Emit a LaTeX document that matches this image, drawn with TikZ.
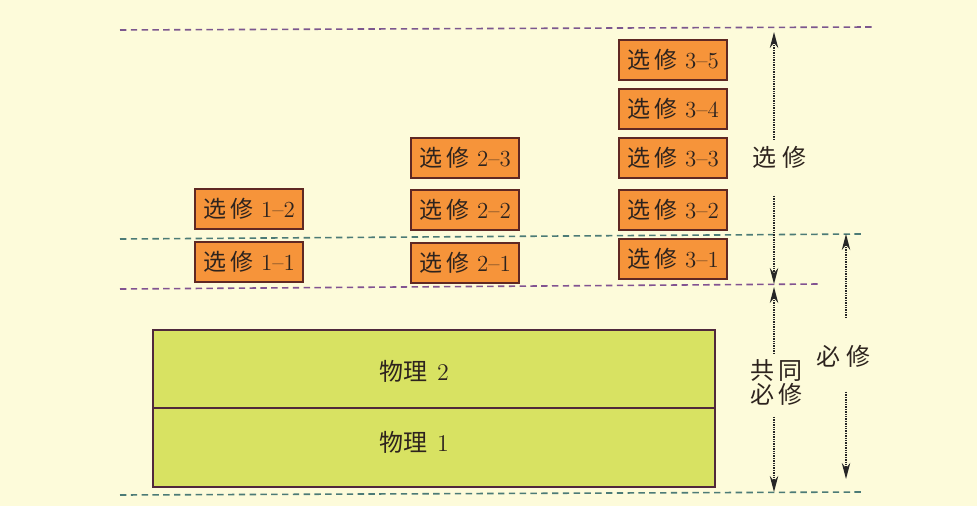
\documentclass[tikz,border=0pt]{standalone}
\usepackage{fontspec}
\newfontfamily\cjk{Noto Sans CJK SC}
\usetikzlibrary{arrows.meta}
\definecolor{bg}{RGB}{253,251,218}
\definecolor{boxfill}{RGB}{246,148,58}
\definecolor{boxedge}{RGB}{95,40,35}
\definecolor{physfill}{RGB}{216,226,98}
\definecolor{physedge}{RGB}{80,40,60}
\definecolor{dgreen}{RGB}{40,150,100}
\definecolor{dpurple}{RGB}{160,60,160}
\definecolor{txt}{RGB}{45,35,30}
\begin{document}
\begin{tikzpicture}[x=0.5pt,y=-0.5pt,
  elecbox/.style={draw=boxedge, line width=1pt, fill=boxfill, minimum width=54pt, minimum height=20pt, inner sep=0pt, text=txt, font=\fontsize{11.5}{13}\selectfont},
  physbox/.style={draw=physedge, line width=0.8pt, fill=physfill, minimum width=281pt, inner sep=0pt},
  phystext/.style={text=txt, font=\fontsize{12}{14}\selectfont},
  sidetext/.style={text=txt, font=\fontsize{12}{13}\selectfont, align=center, inner sep=0pt},
  dline/.style={dash pattern=on 3.2pt off 2.2pt, line width=0.8pt},
  arr/.style={dash pattern=on 0.7pt off 0.5pt, line width=0.8pt, draw=black!85, -{Stealth[length=8pt,width=4.2pt]}}
]
% background
\fill[bg] (0,0) rectangle (977,506);
\useasboundingbox (0,0) rectangle (977,506);

% dashed level lines
\coordinate (t1) at (120,30);
\coordinate (t2) at (872,27);
\coordinate (m1) at (120,239);
\coordinate (m2) at (862,234);
\coordinate (n1) at (120,289);
\coordinate (n2) at (820,284);
\coordinate (b1) at (120,495);
\coordinate (b2) at (865,492);
\draw[dline, dpurple!70!dgreen] (t1) -- (t2);
\draw[dline, dgreen!70!dpurple] (m1) -- (m2);
\draw[dline, dpurple!75!dgreen] (n1) -- (n2);
\draw[dline, dgreen!70!dpurple] (b1) -- (b2);

% elective boxes
\node[elecbox] (e11) at (249,262) {\cjk 选\hspace{2pt}修\hspace{4pt}\rmfamily 1\textendash 1};
\node[elecbox] (e12) at (249,209) {\cjk 选\hspace{2pt}修\hspace{4pt}\rmfamily 1\textendash 2};
\node[elecbox] (e21) at (465,263) {\cjk 选\hspace{2pt}修\hspace{4pt}\rmfamily 2\textendash 1};
\node[elecbox] (e22) at (465,210) {\cjk 选\hspace{2pt}修\hspace{4pt}\rmfamily 2\textendash 2};
\node[elecbox] (e23) at (465,158) {\cjk 选\hspace{2pt}修\hspace{4pt}\rmfamily 2\textendash 3};
\node[elecbox] (e31) at (673,259) {\cjk 选\hspace{2pt}修\hspace{4pt}\rmfamily 3\textendash 1};
\node[elecbox] (e32) at (673,210) {\cjk 选\hspace{2pt}修\hspace{4pt}\rmfamily 3\textendash 2};
\node[elecbox] (e33) at (673,158) {\cjk 选\hspace{2pt}修\hspace{4pt}\rmfamily 3\textendash 3};
\node[elecbox] (e34) at (673,109) {\cjk 选\hspace{2pt}修\hspace{4pt}\rmfamily 3\textendash 4};
\node[elecbox] (e35) at (673,60) {\cjk 选\hspace{2pt}修\hspace{4pt}\rmfamily 3\textendash 5};

% physics compulsory blocks
\node[physbox, minimum height=39pt] (p2) at (434,369) {};
\node[physbox, minimum height=39.5pt] (p1) at (434,447.5) {};
\node[phystext] (p2t) at (414,371) {\cjk 物理\hspace{5pt}\rmfamily 2};
\node[phystext] (p1t) at (414,442) {\cjk 物理\hspace{5pt}\rmfamily 1};

% side labels
\node[sidetext] (lx) at (779,157) {\cjk 选\hspace{3pt}修};
\node[sidetext] (lg) at (776,382) {\cjk 共\hspace{2pt}同\\[-1pt]\cjk 必\hspace{2pt}修};
\node[sidetext] (lb) at (843,356) {\cjk 必\hspace{3pt}修};

% arrow anchor points
\coordinate (ax1) at (774,140);
\coordinate (ax2) at (774,32);
\coordinate (ax3) at (774,196);
\coordinate (ax4) at (774,284);
\coordinate (ag1) at (774,354);
\coordinate (ag2) at (774,287);
\coordinate (ag3) at (774,417);
\coordinate (ag4) at (774,492);
\coordinate (ab1) at (846,318);
\coordinate (ab2) at (846,234);
\coordinate (ab3) at (846,392);
\coordinate (ab4) at (846,479);

\draw[arr] (ax1) -- (ax2);
\draw[arr] (ax3) -- (ax4);
\draw[arr] (ag1) -- (ag2);
\draw[arr] (ag3) -- (ag4);
\draw[arr] (ab1) -- (ab2);
\draw[arr] (ab3) -- (ab4);
\end{tikzpicture}
\end{document}
